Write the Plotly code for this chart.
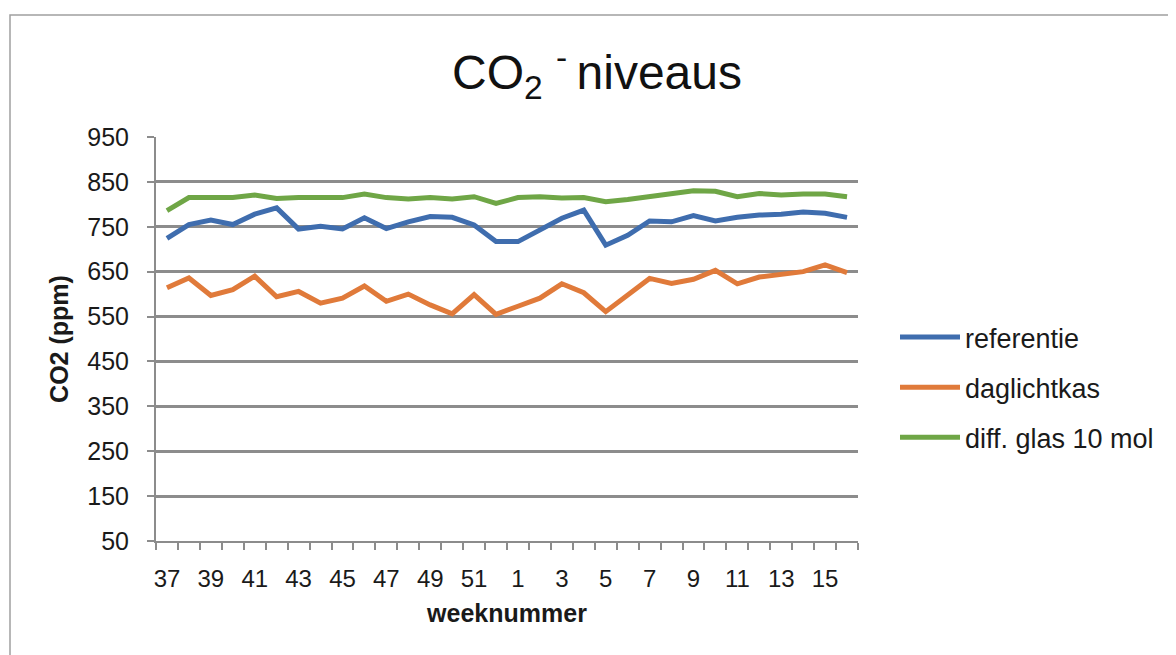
import plotly.graph_objects as go

weeks = list(range(37, 53)) + list(range(1, 17))
referentie = [724, 755, 765, 755, 778, 792, 745, 751, 745, 770, 746, 761, 773, 771, 754, 717,
              717, 743, 769, 787, 709, 731, 763, 761, 775, 763, 771, 776, 778, 783, 780, 771]
daglichtkas = [614, 636, 597, 610, 640, 594, 606, 580, 591, 618, 584, 600, 576, 556, 599, 555,
               573, 591, 623, 603, 561, 597, 635, 624, 633, 653, 623, 638, 644, 650, 665, 648]
diff_glas = [786, 815, 815, 815, 821, 813, 815, 815, 815, 823, 815, 812, 815, 812, 817, 802,
             815, 817, 814, 815, 806, 811, 817, 823, 830, 829, 817, 824, 821, 823, 823, 817]

series_names = ["referentie", "daglichtkas", "diff. glas 10 mol"]
series_values = [referentie, daglichtkas, diff_glas]
colors = ["#3F6DAE", "#E07A3A", "#6FA646"]
y_ticks = list(range(50, 951, 100))

FONT = "Liberation Sans, Arial, sans-serif"
GRID = "#8C8C8C"

# page has an 8px body margin; the figure is sized to fit inside the window
W, H = 1168, 647
L, T = 148, 129          # plot area left/top inside the figure
PW, PH = 702, 404        # plot area size

idx = list(range(len(weeks)))

fig = go.Figure()
for i, (name, vals, col) in enumerate(zip(series_names, series_values, colors)):
    fig.add_trace(go.Scatter(
        x=idx, y=vals, mode="lines", name=name,
        line=dict(color=col, width=5),
        legendgroup=f"g{i}",
    ))

fig.update_layout(
    width=W, height=H,
    margin=dict(l=L, r=W - L - PW, t=T, b=H - T - PH),
    paper_bgcolor="white", plot_bgcolor="white",
    font=dict(family=FONT, color="#1a1a1a", size=24),
    title=dict(
        text="CO<sub>2</sub> <sup>- </sup>niveaus",
        x=589 / W, xref="container", xanchor="center",
        y=1 - 64 / H, yref="container", yanchor="middle",
        font=dict(size=48, family=FONT, color="#111"),
    ),
    showlegend=True,
    legend=dict(
        x=(887 - L) / PW, xanchor="left", y=0.38, yanchor="middle",
        traceorder="grouped", tracegroupgap=12,
        font=dict(size=27, family=FONT, color="#1a1a1a"),
        itemwidth=60, bgcolor="rgba(0,0,0,0)",
    ),
    xaxis=dict(
        range=[-0.5, len(weeks) - 0.5],
        tickmode="array",
        tickvals=idx[::2],
        ticktext=[str(w) for w in weeks[::2]],
        ticks="",
        showgrid=False, zeroline=False,
        showline=True, linecolor=GRID, linewidth=2,
        tickfont=dict(size=24),
        ticklabelstandoff=15,
        minor=dict(
            tickmode="array",
            tickvals=[i - 0.5 for i in range(len(weeks) + 1)],
            ticks="outside", ticklen=7, tickwidth=2, tickcolor=GRID,
            showgrid=False,
        ),
        title=dict(text="<b>weeknummer</b>", font=dict(size=25), standoff=14),
    ),
    yaxis=dict(
        range=[50, 950],
        tickmode="array", tickvals=y_ticks,
        ticks="outside", ticklen=7, tickwidth=2, tickcolor=GRID,
        showgrid=True, gridcolor=GRID, gridwidth=2.5,
        zeroline=False,
        showline=True, linecolor=GRID, linewidth=2,
        tickfont=dict(size=25),
        ticklabelstandoff=13,
        title=dict(text="<b>CO2 (ppm)</b>", font=dict(size=25), standoff=12),
    ),
    shapes=[dict(
        type="rect", xref="paper", yref="paper",
        x0=(2 - L) / PW, x1=(1170 - L) / PW,
        y0=(T + PH - 700) / PH, y1=(T + PH - 7) / PH,
        line=dict(color="#A0A0A0", width=1.5), fillcolor="rgba(0,0,0,0)", layer="below",
    )],
)

fig.write_html("out.html")
